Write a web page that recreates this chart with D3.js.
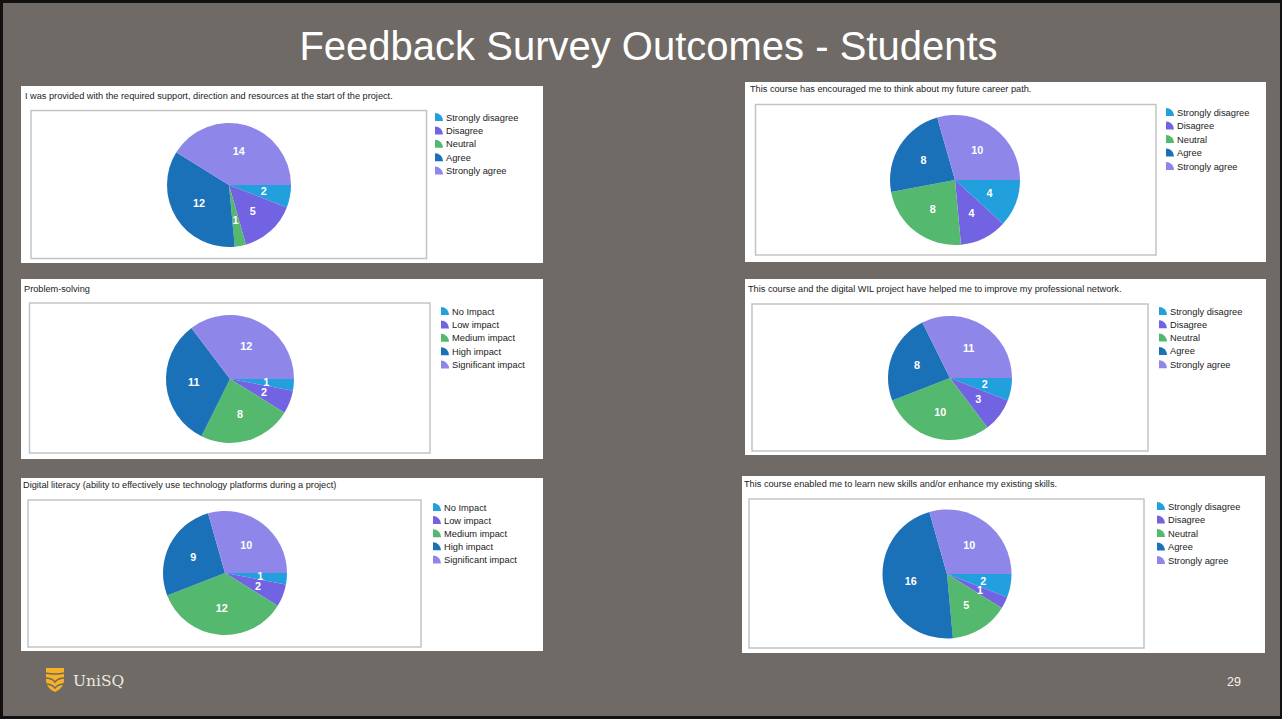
<!DOCTYPE html>
<html>
<head>
<meta charset="utf-8">
<script src="https://cdn.jsdelivr.net/npm/d3@7"></script>
<style>
  html, body { margin: 0; padding: 0; background: #000; }
  svg { display: block; font-family: "Liberation Sans", Arial, sans-serif; }
</style>
</head>
<body>
<svg id="slide" width="1282" height="719"></svg>
<script>
// ---- data ----
const slideTitle = "Feedback Survey Outcomes - Students";
const agreeCategories = ["Strongly disagree", "Disagree", "Neutral", "Agree", "Strongly agree"];
const impactCategories = ["No Impact", "Low impact", "Medium impact", "High impact", "Significant impact"];

const supportTitle = "I was provided with the required support, direction and resources at the start of the project.";
const supportValues = [2, 5, 1, 12, 14];

const careerTitle = "This course has encouraged me to think about my future career path.";
const careerValues = [4, 4, 8, 8, 10];

const problemTitle = "Problem-solving";
const problemValues = [1, 2, 8, 11, 12];

const networkTitle = "This course and the digital WIL project have helped me to improve my professional network.";
const networkValues = [2, 3, 10, 8, 11];

const literacyTitle = "Digital literacy (ability to effectively use technology platforms during a project)";
const literacyValues = [1, 2, 12, 9, 10];

const skillsTitle = "This course enabled me to learn new skills and/or enhance my existing skills.";
const skillsValues = [2, 1, 5, 16, 10];

const sliceColors = ["#22a0de", "#7163e2", "#54b86f", "#1b71b7", "#8f86ea"];
const pageNumber = "29";

// ---- layout (one entry per panel) ----
const panels = [
  {title: supportTitle, cats: agreeCategories, values: supportValues,
   box: [21, 86, 522, 177], tx: 25, ty: 98.5, inner: [31, 110.5, 395.5, 148],
   cx: 229, cy: 185, r: 62, lx: 435, ly: 117, step: 13.4},
  {title: careerTitle, cats: agreeCategories, values: careerValues,
   box: [745, 82, 521, 180], tx: 750, ty: 92, inner: [755.5, 104.5, 400.5, 150.5],
   cx: 955, cy: 180, r: 65, lx: 1166, ly: 112, step: 13.5},
  {title: problemTitle, cats: impactCategories, values: problemValues,
   box: [21, 279, 522, 180], tx: 24, ty: 291.5, inner: [29.5, 303, 400.5, 150],
   cx: 230, cy: 379, r: 64, lx: 441, ly: 311, step: 13.4},
  {title: networkTitle, cats: agreeCategories, values: networkValues,
   box: [745, 279, 521, 176], tx: 748, ty: 292, inner: [752, 304, 396, 147],
   cx: 950, cy: 378, r: 62, lx: 1159, ly: 311, step: 13.3},
  {title: literacyTitle, cats: impactCategories, values: literacyValues,
   box: [21, 478, 522, 173], tx: 23, ty: 487.5, inner: [28, 500, 393, 147],
   cx: 225, cy: 573, r: 62, lx: 433, ly: 507, step: 13.1},
  {title: skillsTitle, cats: agreeCategories, values: skillsValues,
   box: [742, 476, 523, 177], tx: 744, ty: 487, inner: [749, 499, 395, 149],
   cx: 947, cy: 574, r: 64.5, lx: 1157, ly: 506, step: 13.5}
];

const svg = d3.select("#slide");

// slide background with dark frame
svg.append("rect").attr("width", 1282).attr("height", 719).attr("fill", "#111");
svg.append("rect").attr("x", 3).attr("y", 3).attr("width", 1277).attr("height", 713)
  .attr("fill", "#6f6a65");

svg.append("text")
  .attr("x", 648.5).attr("y", 60)
  .attr("text-anchor", "middle")
  .attr("font-size", 40)
  .attr("fill", "#ffffff")
  .text(slideTitle);

const color = d3.scaleOrdinal().domain(d3.range(5)).range(sliceColors);

const pie = d3.pie()
  .sort(null)
  .value(d => d)
  .startAngle(Math.PI / 2)
  .endAngle(Math.PI / 2 + 2 * Math.PI);

const legendIcon = d3.arc()
  .innerRadius(0).outerRadius(8)
  .startAngle(0).endAngle(Math.PI / 2);

panels.forEach(p => {
  const g = svg.append("g");

  g.append("rect")
    .attr("x", p.box[0]).attr("y", p.box[1])
    .attr("width", p.box[2]).attr("height", p.box[3])
    .attr("fill", "#ffffff");

  g.append("text")
    .attr("x", p.tx).attr("y", p.ty)
    .attr("font-size", 9.2)
    .attr("fill", "#222")
    .text(p.title);

  g.append("rect")
    .attr("x", p.inner[0]).attr("y", p.inner[1])
    .attr("width", p.inner[2]).attr("height", p.inner[3])
    .attr("fill", "#ffffff")
    .attr("stroke", "#c3c3c3")
    .attr("stroke-width", 1.5);

  const arc = d3.arc().innerRadius(0).outerRadius(p.r);
  const labelArc = d3.arc().innerRadius(p.r * 0.57).outerRadius(p.r * 0.57);

  const pg = g.append("g").attr("transform", `translate(${p.cx},${p.cy})`);
  const arcs = pie(p.values);

  pg.selectAll("path")
    .data(arcs)
    .join("path")
    .attr("d", arc)
    .attr("fill", (d, i) => color(i));

  pg.selectAll("text")
    .data(arcs)
    .join("text")
    .attr("transform", d => `translate(${labelArc.centroid(d)})`)
    .attr("text-anchor", "middle")
    .attr("dy", "0.36em")
    .attr("font-size", 10.8)
    .attr("font-weight", "bold")
    .attr("fill", "#ffffff")
    .text(d => d.data);

  // legend
  const lg = g.append("g");
  const items = lg.selectAll("g")
    .data(p.cats)
    .join("g")
    .attr("transform", (d, i) => `translate(${p.lx},${p.ly + i * p.step})`);

  items.append("path")
    .attr("transform", "translate(0,4)")
    .attr("d", legendIcon)
    .attr("fill", (d, i) => color(i));

  items.append("text")
    .attr("x", 11).attr("y", 3.5)
    .attr("font-size", 9.3)
    .attr("fill", "#222")
    .text(d => d);
});

// UniSQ logo
const logo = svg.append("g").attr("transform", "translate(46,668)");
logo.append("path")
  .attr("d", "M0,0 H18 V12 Q18,20 9,24 Q0,20 0,12 Z")
  .attr("fill", "#f5b225");
logo.append("path")
  .attr("d", "M-1,5 Q9,7 19,5")
  .attr("fill", "none").attr("stroke", "#6f6a65").attr("stroke-width", 1.6);
logo.append("path")
  .attr("d", "M-1,10 Q6,10 9,14 Q12,10 19,10")
  .attr("fill", "none").attr("stroke", "#6f6a65").attr("stroke-width", 1.6);
logo.append("path")
  .attr("d", "M-1,16 Q6,16 9,20 Q12,16 19,16")
  .attr("fill", "none").attr("stroke", "#6f6a65").attr("stroke-width", 1.6);

svg.append("text")
  .attr("x", 73).attr("y", 686)
  .attr("font-family", "'DejaVu Serif', 'Liberation Serif', serif")
  .attr("font-size", 15.5)
  .attr("fill", "#ece8e3")
  .text("UniSQ");

svg.append("text")
  .attr("x", 1234).attr("y", 686)
  .attr("text-anchor", "middle")
  .attr("font-size", 12.5)
  .attr("fill", "#f2f2f2")
  .text(pageNumber);
</script>
</body>
</html>
